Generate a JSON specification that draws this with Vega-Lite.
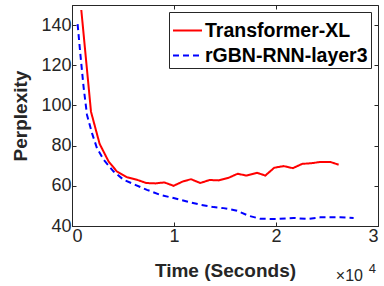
{
  "$schema": "https://vega.github.io/schema/vega-lite/v6.json",
  "width": 306,
  "height": 221,
  "autosize": {"type": "none"},
  "padding": {"left": 72, "top": 5, "right": 6, "bottom": 60},
  "config": {
    "view": {"stroke": "#262626", "strokeWidth": 1},
    "font": "Liberation Sans",
    "axis": {
      "domainColor": "#262626",
      "tickColor": "#262626",
      "labelColor": "#262626",
      "titleColor": "#262626",
      "labelFont": "Liberation Sans",
      "titleFont": "Liberation Sans",
      "grid": false
    }
  },
  "data": {
    "values": [
      {"t": 912, "ppl": 147.5, "model": "Transformer-XL"},
      {"t": 1862, "ppl": 96.9, "model": "Transformer-XL"},
      {"t": 2706, "ppl": 80.9, "model": "Transformer-XL"},
      {"t": 3590, "ppl": 72.1, "model": "Transformer-XL"},
      {"t": 4410, "ppl": 67.1, "model": "Transformer-XL"},
      {"t": 5390, "ppl": 64.3, "model": "Transformer-XL"},
      {"t": 6370, "ppl": 63.0, "model": "Transformer-XL"},
      {"t": 7280, "ppl": 61.4, "model": "Transformer-XL"},
      {"t": 8170, "ppl": 61.2, "model": "Transformer-XL"},
      {"t": 9050, "ppl": 61.7, "model": "Transformer-XL"},
      {"t": 9960, "ppl": 60.0, "model": "Transformer-XL"},
      {"t": 10880, "ppl": 62.2, "model": "Transformer-XL"},
      {"t": 11670, "ppl": 63.3, "model": "Transformer-XL"},
      {"t": 12580, "ppl": 61.4, "model": "Transformer-XL"},
      {"t": 13490, "ppl": 62.9, "model": "Transformer-XL"},
      {"t": 14370, "ppl": 62.7, "model": "Transformer-XL"},
      {"t": 15350, "ppl": 64.0, "model": "Transformer-XL"},
      {"t": 16240, "ppl": 66.0, "model": "Transformer-XL"},
      {"t": 17090, "ppl": 65.1, "model": "Transformer-XL"},
      {"t": 18140, "ppl": 66.5, "model": "Transformer-XL"},
      {"t": 18950, "ppl": 65.1, "model": "Transformer-XL"},
      {"t": 19830, "ppl": 69.0, "model": "Transformer-XL"},
      {"t": 20750, "ppl": 69.8, "model": "Transformer-XL"},
      {"t": 21660, "ppl": 68.8, "model": "Transformer-XL"},
      {"t": 22550, "ppl": 70.9, "model": "Transformer-XL"},
      {"t": 23530, "ppl": 71.3, "model": "Transformer-XL"},
      {"t": 24410, "ppl": 71.9, "model": "Transformer-XL"},
      {"t": 25320, "ppl": 71.9, "model": "Transformer-XL"},
      {"t": 26140, "ppl": 70.5, "model": "Transformer-XL"},
      {"t": 550, "ppl": 140.5, "model": "rGBN-RNN-layer3"},
      {"t": 810, "ppl": 126.0, "model": "rGBN-RNN-layer3"},
      {"t": 1140, "ppl": 109.0, "model": "rGBN-RNN-layer3"},
      {"t": 1470, "ppl": 95.3, "model": "rGBN-RNN-layer3"},
      {"t": 1960, "ppl": 86.2, "model": "rGBN-RNN-layer3"},
      {"t": 2450, "ppl": 78.7, "model": "rGBN-RNN-layer3"},
      {"t": 3100, "ppl": 73.0, "model": "rGBN-RNN-layer3"},
      {"t": 4080, "ppl": 67.1, "model": "rGBN-RNN-layer3"},
      {"t": 5060, "ppl": 63.0, "model": "rGBN-RNN-layer3"},
      {"t": 6200, "ppl": 60.5, "model": "rGBN-RNN-layer3"},
      {"t": 7350, "ppl": 58.0, "model": "rGBN-RNN-layer3"},
      {"t": 8660, "ppl": 55.5, "model": "rGBN-RNN-layer3"},
      {"t": 9960, "ppl": 53.9, "model": "rGBN-RNN-layer3"},
      {"t": 11270, "ppl": 52.2, "model": "rGBN-RNN-layer3"},
      {"t": 12580, "ppl": 50.6, "model": "rGBN-RNN-layer3"},
      {"t": 13880, "ppl": 49.4, "model": "rGBN-RNN-layer3"},
      {"t": 14860, "ppl": 48.9, "model": "rGBN-RNN-layer3"},
      {"t": 16180, "ppl": 47.6, "model": "rGBN-RNN-layer3"},
      {"t": 17310, "ppl": 45.1, "model": "rGBN-RNN-layer3"},
      {"t": 18460, "ppl": 43.6, "model": "rGBN-RNN-layer3"},
      {"t": 20100, "ppl": 43.5, "model": "rGBN-RNN-layer3"},
      {"t": 21720, "ppl": 44.0, "model": "rGBN-RNN-layer3"},
      {"t": 23040, "ppl": 43.5, "model": "rGBN-RNN-layer3"},
      {"t": 24340, "ppl": 44.3, "model": "rGBN-RNN-layer3"},
      {"t": 26300, "ppl": 44.3, "model": "rGBN-RNN-layer3"},
      {"t": 27610, "ppl": 44.0, "model": "rGBN-RNN-layer3"}
    ]
  },
  "layer": [
    {
      "mark": {"type": "line", "strokeWidth": 2, "clip": true},
      "encoding": {
        "x": {
          "field": "t", "type": "quantitative",
          "scale": {"domain": [0, 30000], "nice": false},
          "axis": {
            "orient": "bottom", "values": [0, 10000, 20000, 30000],
            "labelExpr": "datum.value / 10000",
            "labelFontSize": 18, "labelPadding": 5, "tickSize": -4,
            "title": "Time (Seconds)", "titleFontSize": 19, "titleFontWeight": "bold",
            "titlePadding": 16
          }
        },
        "y": {
          "field": "ppl", "type": "quantitative",
          "scale": {"domain": [40, 150], "nice": false},
          "axis": {
            "orient": "left", "values": [40, 60, 80, 100, 120, 140],
            "labelFontSize": 18, "labelPadding": 5, "tickSize": -4,
            "title": "Perplexity", "titleFontSize": 19, "titleFontWeight": "bold",
            "titlePadding": 10
          }
        },
        "color": {
          "field": "model", "type": "nominal",
          "scale": {"domain": ["Transformer-XL", "rGBN-RNN-layer3"], "range": ["#ff0000", "#0000ff"]},
          "legend": {
            "orient": "none", "legendX": 97, "legendY": 7, "title": null,
            "symbolType": "stroke", "symbolSize": 841, "symbolStrokeWidth": 2,
            "labelFont": "Liberation Sans", "labelFontSize": 19.5, "labelFontWeight": "bold",
            "labelColor": "#000000", "labelOffset": 2, "labelLimit": 400,
            "strokeColor": "#262626", "fillColor": "#ffffff",
            "padding": 3, "rowPadding": -14
          }
        },
        "strokeDash": {
          "field": "model", "type": "nominal",
          "scale": {"domain": ["Transformer-XL", "rGBN-RNN-layer3"], "range": [[1, 0], [6, 4]]},
          "legend": {
            "orient": "none", "legendX": 97, "legendY": 7, "title": null,
            "symbolType": "stroke", "symbolSize": 841, "symbolStrokeWidth": 2,
            "labelFont": "Liberation Sans", "labelFontSize": 19.5, "labelFontWeight": "bold",
            "labelColor": "#000000", "labelOffset": 2, "labelLimit": 400,
            "strokeColor": "#262626", "fillColor": "#ffffff",
            "padding": 3, "rowPadding": -14
          }
        }
      }
    },
    {
      "data": {"values": [{"label": "×10"}]},
      "mark": {"type": "text", "align": "right", "baseline": "alphabetic", "dx": -15, "dy": 55, "fontSize": 16, "color": "#262626", "clip": false},
      "encoding": {
        "x": {"datum": 30000, "type": "quantitative",
          "axis": {"orient": "top", "values": [0, 10000, 20000, 30000], "labels": false, "domain": false, "tickSize": -4, "title": null}},
        "y": {"datum": 40, "type": "quantitative",
          "axis": {"orient": "right", "values": [40, 60, 80, 100, 120, 140], "labels": false, "domain": false, "tickSize": -4, "title": null}},
        "text": {"field": "label"}
      }
    },
    {
      "data": {"values": [{"label": "4"}]},
      "mark": {"type": "text", "align": "right", "baseline": "alphabetic", "dx": -2, "dy": 47, "fontSize": 13, "color": "#262626", "clip": false},
      "encoding": {
        "x": {"datum": 30000, "type": "quantitative", "axis": null},
        "y": {"datum": 40, "type": "quantitative", "axis": null},
        "text": {"field": "label"}
      }
    }
  ],
  "resolve": {"axis": {"x": "independent", "y": "independent"}}
}
